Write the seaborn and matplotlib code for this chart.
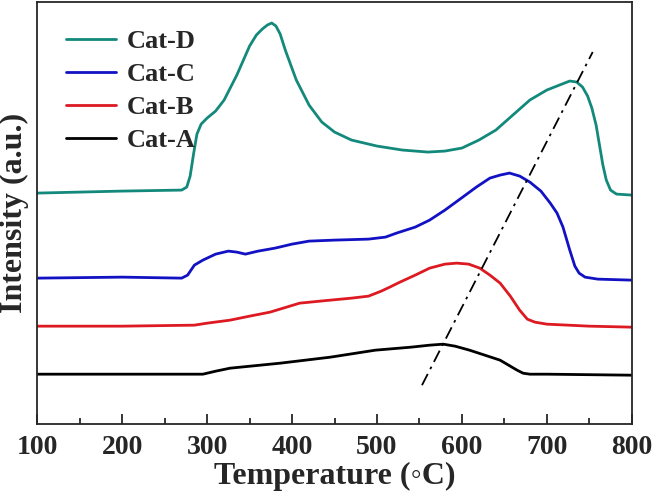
import numpy as np
import pandas as pd
import matplotlib as mpl
import matplotlib.pyplot as plt
import seaborn as sns
from matplotlib.ticker import MultipleLocator

# H2-TPR style profiles (intensity in arbitrary units)
t_d = [100, 200, 270, 276, 280, 284, 288, 293, 300, 310, 320, 335, 350, 358, 365, 371, 376, 381, 386, 392,
       405, 420, 435, 450, 470, 500, 530, 560, 580, 600, 620, 640, 660, 680, 700, 715, 727, 735, 742, 748,
       753, 758, 762, 766, 770, 775, 782, 800]
cat_d = [231, 233, 234, 237, 248, 270, 290, 300, 306, 313, 324, 349, 378, 389, 395, 399, 401, 398, 390, 374,
         344, 319, 302, 292, 284, 278, 274, 272, 273, 276, 284, 294, 309, 324, 334, 339, 343, 342, 337, 328,
         316, 299, 279, 259, 244, 234, 230, 229]

t_c = [100, 200, 270, 277, 285, 295, 310, 325, 335, 345, 360, 380, 400, 420, 450, 490, 510, 523, 545, 562,
       580, 601, 617, 633, 645, 656, 668, 680, 693, 704, 712, 719, 727, 733, 738, 745, 760, 800]
cat_c = [146, 147, 146, 149, 159, 164, 170, 173, 172, 170, 173, 176, 180, 183, 184, 185, 187, 191, 197, 204,
         214, 227, 237, 246, 249, 251, 248, 242, 233, 221, 211, 197, 174, 158, 151, 147, 145, 144]

t_b = [100, 200, 285, 300, 327, 350, 374, 409, 445, 470, 490, 505, 515, 527, 545, 562, 580, 594, 608, 621,
       633, 645, 657, 668, 677, 686, 700, 750, 800]
cat_b = [98, 98, 99, 101, 104, 108, 112, 121, 124, 126, 128, 133, 137, 142, 149, 156, 160, 161, 160, 156,
         149, 141, 128, 114, 105, 102, 100, 98, 97]

t_a = [100, 200, 295, 310, 327, 386, 445, 498, 540, 562, 578, 592, 609, 627, 645, 655, 665, 672, 680, 700, 800]
cat_a = [50, 50, 50, 53, 56, 61, 67, 74, 77, 79, 80, 78, 74, 69, 64, 59, 54, 51, 50, 50, 49]

# peak shift guide line
guide_t = [553, 754]
guide_y = [39, 372]

series = [('Cat-D', t_d, cat_d, '#13897B'),
          ('Cat-C', t_c, cat_c, '#1212C4'),
          ('Cat-B', t_b, cat_b, '#DD1A22'),
          ('Cat-A', t_a, cat_a, '#000000')]

sns.set_style('ticks')
plt.rcParams['font.family'] = ['Liberation Serif', 'DejaVu Serif']
plt.rcParams['font.weight'] = 'bold'
plt.rcParams['axes.linewidth'] = 1.3
plt.rcParams['lines.solid_joinstyle'] = 'round'

fig, ax = plt.subplots(figsize=(6.54, 4.95), dpi=100)
fig.subplots_adjust(left=0.057, right=0.966, top=0.996, bottom=0.143)

for name, t, y, col in series:
    df = pd.DataFrame({'T': t, 'I': y})
    sns.lineplot(data=df, x='T', y='I', color=col, lw=2.0, ax=ax, label=name)

ax.plot(guide_t, guide_y, color='k', lw=1.3, ls=(0, (7, 3, 1.5, 3)))

ax.set_xlim(100, 800)
ax.set_ylim(0, 422)
ax.xaxis.set_major_locator(MultipleLocator(100))
ax.xaxis.set_minor_locator(MultipleLocator(50))
ax.tick_params(axis='x', which='major', direction='in', length=7, width=1.3, labelsize=20, pad=8)
ax.tick_params(axis='x', which='minor', direction='in', length=4, width=1.3)
ax.set_yticks([])
for lab in ax.get_xticklabels():
    lab.set_fontweight('bold')

ax.set_xlabel('Temperature (\u25e6C)', fontsize=23, fontweight='bold', labelpad=1)
ax.set_ylabel('Intensity (a.u.)', fontsize=23, fontweight='bold', labelpad=6)

ax.legend(loc='upper left', frameon=False, fontsize=19, handlelength=1.9, handletextpad=0.4,
          labelspacing=0.36, bbox_to_anchor=(0.03, 0.96), borderaxespad=0)

plt.savefig('out.png', dpi=100)
